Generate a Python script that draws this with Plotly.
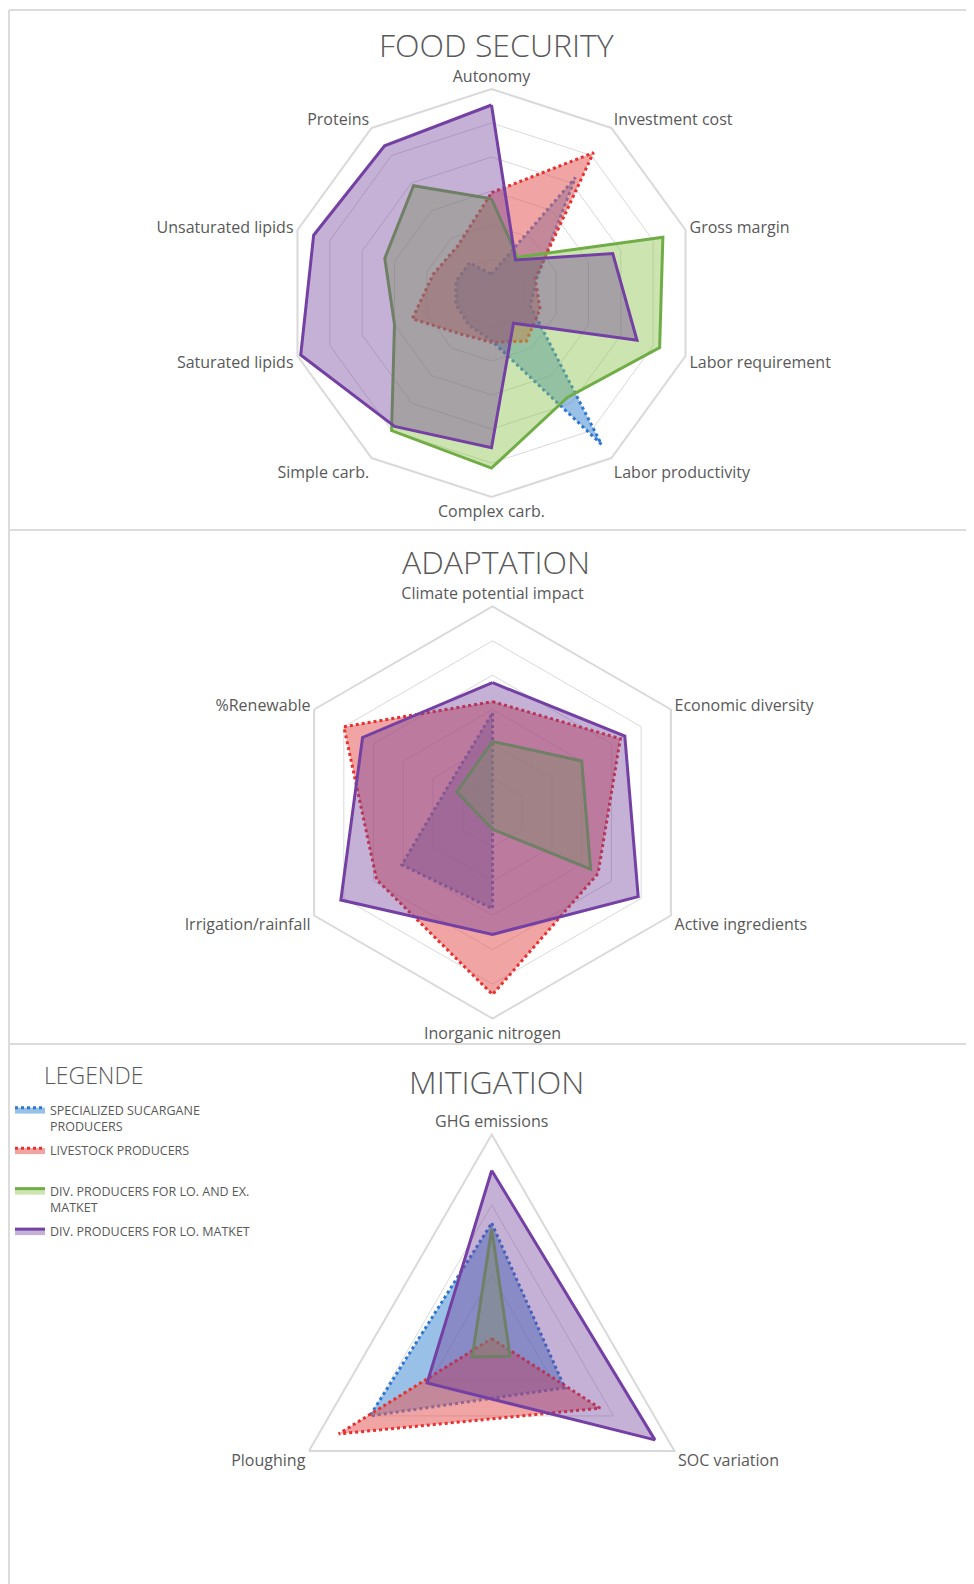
import plotly.graph_objects as go

# ---------------- data ----------------
series_names = [
    "SPECIALIZED SUCARGANE<br>PRODUCERS",
    "LIVESTOCK PRODUCERS<br> ",
    "DIV. PRODUCERS FOR LO. AND EX.<br>MATKET",
    "DIV. PRODUCERS FOR LO. MATKET",
]

fs_axes = ["Autonomy", "Investment cost", "Gross margin", "Labor requirement",
           "Labor productivity", "Complex carb.", "Simple carb.", "Saturated lipids",
           "Unsaturated lipids", "Proteins"]
fs_sugarcane = [0.55, 4.2, 1.4, 1.2, 5.5, 1.4, 1.15, 1.1, 1.1, 1.1]
fs_livestock = [2.95, 5.1, 1.35, 1.5, 1.75, 1.45, 1.5, 2.45, 1.8, 1.7]
fs_div_lo_ex = [2.77, 1.3, 5.3, 5.2, 3.8, 5.15, 5.0, 3.0, 3.3, 3.9]
fs_div_lo = [5.53, 1.2, 3.75, 4.5, 1.1, 4.55, 4.85, 5.9, 5.5, 5.35]

ad_axes = ["Climate potential impact", "Economic diversity", "Active ingredients",
           "Inorganic nitrogen", "Irrigation/rainfall", "%Renewable"]
ad_sugarcane = [2.9, 0, 0, 2.8, 3.05, 1.5]
ad_livestock = [3.23, 4.3, 3.55, 5.3, 3.9, 5.0]
ad_div_lo_ex = [2.07, 3.0, 3.3, 0.49, 0.35, 1.2]
ad_div_lo = [3.78, 4.45, 4.9, 3.55, 5.1, 4.37]

mi_axes = ["GHG emissions", "SOC variation", "Ploughing"]
mi_sugarcane = [1.74, 1.2, 2.0]
mi_livestock = [0.1, 1.78, 2.51]
mi_div_lo_ex = [1.66, 0.3, 0.32]
mi_div_lo = [2.49, 2.68, 1.06]

panel_titles = ["FOOD SECURITY", "ADAPTATION", "MITIGATION"]

# ---------------- styles ----------------
styles = [
    dict(line=dict(color="#2E78D2", width=3, dash="dot"), fillcolor="rgba(70,140,210,0.55)"),
    dict(line=dict(color="#E8312F", width=3, dash="dot"), fillcolor="rgba(230,90,90,0.55)"),
    dict(line=dict(color="#70AD47", width=3), fillcolor="rgba(140,195,80,0.45)"),
    dict(line=dict(color="#7440A4", width=3), fillcolor="rgba(110,60,150,0.40)"),
]

# page body has an 8px margin: work in screen px, convert to paper px
OFF = 8
W, H = 974 - OFF, 1584 - OFF
GRID = "#d9d9d9"
TXT = "#595959"


def px(x):
    return (x - OFF) / W


def py(y):
    return 1 - (y - OFF) / H


fig = go.Figure()

panels = [
    ("polar", fs_axes, [fs_sugarcane, fs_livestock, fs_div_lo_ex, fs_div_lo], 6, (491.5, 293, 204)),
    ("polar2", ad_axes, [ad_sugarcane, ad_livestock, ad_div_lo_ex, ad_div_lo], 6, (492.5, 812.5, 206)),
    ("polar3", mi_axes, [mi_sugarcane, mi_livestock, mi_div_lo_ex, mi_div_lo], 3, (491.7, 1345.6, 211)),
]

for pi, (pname, axes, vals, rmax, (cx, cy, R)) in enumerate(panels):
    for si, v in enumerate(vals):
        fig.add_trace(go.Scatterpolar(
            r=list(v) + [v[0]],
            theta=list(axes) + [axes[0]],
            mode="lines",
            fill="toself",
            name=series_names[si],
            legendgroup="s%d" % si,
            showlegend=(pi == 0),
            subplot=pname,
            line=styles[si]["line"],
            fillcolor=styles[si]["fillcolor"],
            hoverinfo="skip",
        ))
    fig.layout[pname] = dict(
        domain=dict(x=[px(cx - R), px(cx + R)], y=[py(cy + R), py(cy - R)]),
        gridshape="linear",
        bgcolor="rgba(0,0,0,0)",
        radialaxis=dict(range=[0, rmax], dtick=1, tick0=0, showticklabels=False, ticks="",
                        showline=False, gridcolor=GRID, gridwidth=1),
        angularaxis=dict(type="category", direction="clockwise", rotation=90, showgrid=False,
                         ticks="", linecolor=GRID, linewidth=2,
                         tickfont=dict(family="Open Sans", size=16, color=TXT)),
    )

title_y = [44, 561, 1081]
annotations = []
for t, yy in zip(panel_titles, title_y):
    annotations.append(dict(text=t, x=px(496), y=py(yy), xref="paper", yref="paper",
                            xanchor="center", yanchor="middle", showarrow=False,
                            font=dict(family="Open Sans", size=32, color=TXT, weight=300)))
annotations.append(dict(text="LEGENDE", x=px(42), y=py(1075), xref="paper", yref="paper",
                        xanchor="left", yanchor="middle", showarrow=False,
                        font=dict(family="Open Sans", size=23, color=TXT, weight=300)))

line_style = dict(color="#dcdcdc", width=2)
shapes = [
    dict(type="line", xref="paper", yref="paper", x0=px(9), x1=1, y0=py(10), y1=py(10), line=line_style),
    dict(type="line", xref="paper", yref="paper", x0=px(9), x1=px(9), y0=0, y1=py(10), line=line_style),
    dict(type="line", xref="paper", yref="paper", x0=px(9), x1=1, y0=py(530), y1=py(530), line=line_style),
    dict(type="line", xref="paper", yref="paper", x0=px(9), x1=1, y0=py(1044), y1=py(1044), line=line_style),
]

fig.update_layout(
    width=W, height=H,
    margin=dict(l=0, r=0, t=0, b=0, autoexpand=False),
    paper_bgcolor="white",
    plot_bgcolor="white",
    annotations=annotations,
    shapes=shapes,
    showlegend=True,
    legend=dict(x=px(10), y=py(1095), xanchor="left", yanchor="top", valign="top",
                bgcolor="rgba(0,0,0,0)", itemwidth=30, tracegroupgap=5,
                font=dict(family="Open Sans", size=12.5, color=TXT)),
)

fig.write_html("out.html")
